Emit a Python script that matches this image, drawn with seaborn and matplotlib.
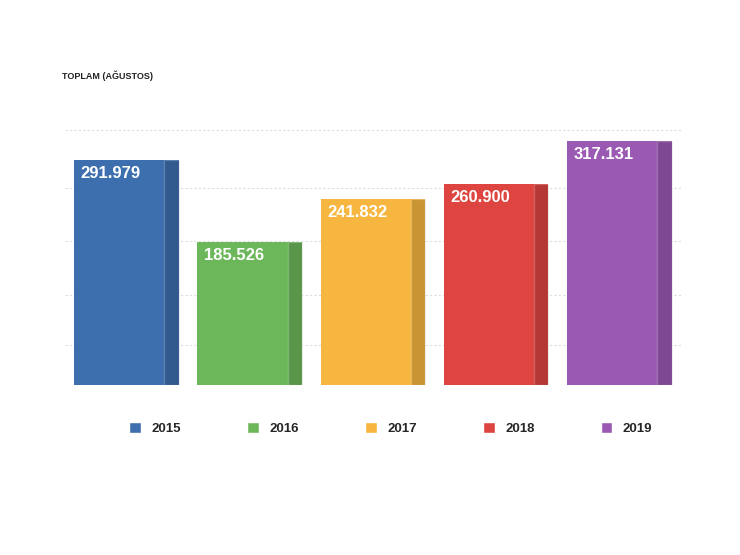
import numpy as np
import pandas as pd
import seaborn as sns
import matplotlib.pyplot as plt
from matplotlib.patches import Patch

years = ["2015", "2016", "2017", "2018", "2019"]
values = [291979, 185526, 241832, 260900, 317131]
labels = ["291.979", "185.526", "241.832", "260.900", "317.131"]
colors = ["#3d6fae", "#6db75b", "#f6b63f", "#df4540", "#9a5ab3"]
grid_vals = [52000, 117000, 187000, 256000, 331000]

sns.set_theme(style="white")
plt.rcParams["font.family"] = ["Liberation Sans", "DejaVu Sans"]

fig = plt.figure(figsize=(7.4, 5.55), dpi=100)
ax = fig.add_axes([0.088, 0.306, 0.832, 0.472])

df = pd.DataFrame({"year": years, "value": values})
sns.barplot(data=df, x="year", y="value", hue="year", palette=colors,
            saturation=1, width=0.85, legend=False, ax=ax,
            edgecolor="none", zorder=2)

for p, lab, c in zip(ax.patches, labels, colors):
    # darker strip on the right to hint the 3D look
    x0, w, h = p.get_x(), p.get_width(), p.get_height()
    ax.bar(x0 + w * 0.93, h, width=w * 0.14, color="black", alpha=0.18,
           zorder=3)
    ax.text(x0 + w * 0.06, h - 8000, lab, color="white", fontsize=12,
            fontweight="bold", ha="left", va="top", zorder=4)

for g in grid_vals:
    ax.axhline(g, color="#dddddd", lw=0.8, ls=(0, (2, 2)), zorder=0)

ax.set_ylim(0, 340000)
ax.set_xlim(-0.5, 4.5)
ax.set_xlabel("")
ax.set_ylabel("")
ax.set_xticks([])
ax.set_yticks([])
sns.despine(ax=ax, left=True, bottom=True)

fig.text(0.084, 0.857, "TOPLAM (AĞUSTOS)", fontsize=6.5, fontweight="bold",
         color="#222222")

handles = [Patch(facecolor=c, label=y) for c, y in zip(colors, years)]
fig.legend(handles=handles, loc="center", bbox_to_anchor=(0.528, 0.228),
           ncol=5, frameon=False, handlelength=0.9, handleheight=0.9,
           columnspacing=5.0, prop={"weight": "bold", "size": 9.5})

fig.savefig("out.png", dpi=100, facecolor="white")
